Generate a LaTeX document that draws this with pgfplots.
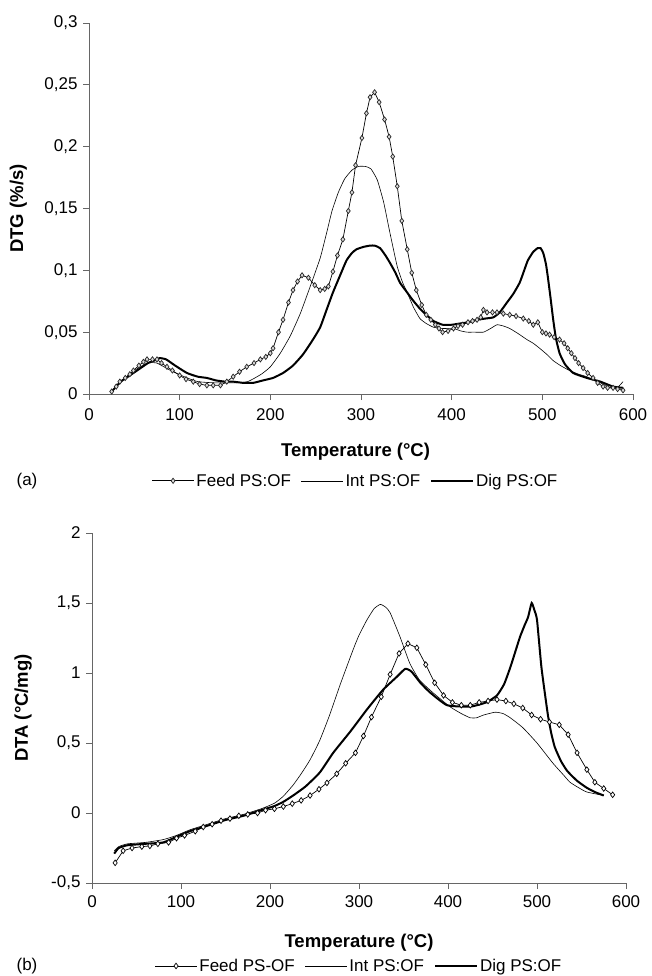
\documentclass[border=0pt]{standalone}
\usepackage{fontspec}
\setmainfont{Liberation Sans}
\usepackage{pgfplots}
\pgfplotsset{compat=1.18}
\pgfplotsset{
  common/.style={
    scale only axis,
    axis x line*=bottom, axis y line*=left,
    axis line style={black!60},
    tick style={black!60, line width=0.7pt},
    tick align=outside,
    major tick length=6pt,
    xmin=0, xmax=600, xtick={0,100,...,600},
    tick label style={font=\fontsize{17}{19}\selectfont},
    yticklabel style={xshift=-2pt},
    label style={font=\fontsize{18.5}{21}\selectfont\bfseries},
    /pgf/number format/assume math mode=true,
    /pgf/number format/use comma,
    legend columns=3,
    legend style={draw=none, fill=none, font=\fontsize{17}{19}\selectfont,
      /tikz/every even column/.append style={column sep=8pt},
      /tikz/every odd column/.append style={column sep=0pt}},
    legend image code/.code={\draw[mark repeat=2,mark phase=2] plot coordinates {(0pt,0pt) (21pt,0pt) (42pt,0pt)};},
  },
}
\begin{document}
\begin{tikzpicture}
\useasboundingbox (0pt,0pt) rectangle (651pt,-976pt);
% ---------------- (a)
\begin{axis}[common,
  at={(89pt,-394pt)}, anchor=south west, width=544pt, height=371pt,
  ymin=0, ymax=0.3, ytick={0,0.05,...,0.3},
  yticklabel style={/pgf/number format/fixed,/pgf/number format/precision=2},
  xticklabel style={yshift=-5pt},
  xlabel={Temperature (°C)}, ylabel={DTG (\%/s)},
  xlabel style={at={(axis description cs:0.49,-0.156)}, anchor=center},
  ylabel style={at={(axis description cs:-0.130,0.5)}, anchor=center},
  legend style={at={(axis description cs:0.49,-0.234)}, anchor=center},
]
\addplot[black, line width=0.7pt, mark=diamond*, mark size=2.6pt, mark options={fill=gray!30, draw=black!85, line width=0.7pt}] coordinates {
(25,0.002)(30,0.006)(34,0.010)(40,0.013)(45,0.016)(49,0.019)(55,0.023)(60,0.026)(64,0.028)(70,0.028)(75,0.028)(80,0.025)(86,0.022)(92,0.019)(100,0.015)(107,0.012)(115,0.010)(122,0.008)(130,0.007)(137,0.007)(145,0.007)(152,0.010)(159,0.014)(166,0.018)(174,0.022)(182,0.025)(189,0.028)(195,0.030)(200,0.033)(203,0.037)(209,0.050)(214,0.060)(220,0.074)(225,0.084)(230,0.091)(235,0.096)(242,0.094)(249,0.088)(255,0.084)(260,0.085)(264,0.087)(269,0.099)(274,0.112)(280,0.125)(286,0.148)(290,0.163)(294,0.185)(301,0.207)(306,0.227)(310,0.240)(315,0.244)(320,0.236)(326,0.222)(331,0.208)(335,0.192)(340,0.168)(345,0.140)(351,0.117)(356,0.098)(361,0.084)(367,0.072)(372,0.064)(377,0.060)(382,0.056)(386,0.053)(390,0.050)(396,0.051)(402,0.053)(407,0.055)(412,0.056)(418,0.058)(423,0.059)(428,0.060)(432,0.062)(435,0.068)(439,0.066)(445,0.066)(450,0.066)(457,0.065)(464,0.064)(471,0.063)(479,0.061)(485,0.059)(490,0.056)(495,0.058)(500,0.050)(504,0.049)(508,0.048)(513,0.046)(519,0.044)(524,0.041)(528,0.037)(532,0.033)(536,0.029)(540,0.025)(545,0.021)(550,0.017)(556,0.013)(561,0.009)(567,0.006)(572,0.005)(578,0.005)(583,0.004)(589,0.003)
};
\addlegendentry{Feed PS:OF}
\addplot[black, line width=0.6pt, smooth, tension=0.3] coordinates {
(25,0.002)(35,0.010)(50,0.019)(65,0.025)(75,0.025)(90,0.019)(105,0.014)(120,0.010)(140,0.009)(160,0.009)(175,0.010)(190,0.016)(200,0.022)(211,0.033)(222,0.047)(233,0.065)(244,0.087)(255,0.110)(262,0.130)(268,0.148)(275,0.163)(282,0.174)(290,0.181)(297,0.184)(305,0.184)(311,0.182)(318,0.173)(325,0.155)(332,0.130)(340,0.103)(346,0.090)(351,0.082)(358,0.070)(365,0.061)(372,0.057)(380,0.054)(390,0.053)(402,0.053)(410,0.051)(417,0.050)(425,0.050)(435,0.050)(443,0.053)(450,0.056)(457,0.055)(464,0.053)(473,0.049)(483,0.044)(490,0.041)(497,0.037)(505,0.032)(512,0.027)(520,0.023)(530,0.019)(540,0.016)(549,0.014)(557,0.011)(564,0.009)(570,0.007)(575,0.005)(580,0.005)(584,0.006)(589,0.010)
};
\addlegendentry{Int PS:OF}
\addplot[black, line width=2pt, smooth, tension=0.3] coordinates {
(25,0.002)(30,0.006)(35,0.010)(45,0.015)(55,0.020)(65,0.025)(72,0.027)(78,0.029)(85,0.028)(95,0.023)(108,0.017)(120,0.014)(130,0.013)(140,0.011)(150,0.010)(159,0.010)(170,0.009)(181,0.009)(192,0.011)(203,0.013)(214,0.017)(225,0.023)(236,0.032)(247,0.044)(255,0.054)(262,0.068)(269,0.082)(277,0.096)(284,0.108)(290,0.114)(295,0.117)(303,0.119)(310,0.120)(315,0.120)(321,0.118)(327,0.112)(332,0.106)(338,0.098)(343,0.090)(350,0.083)(357,0.076)(365,0.069)(372,0.064)(380,0.059)(390,0.056)(400,0.056)(409,0.057)(418,0.058)(428,0.060)(437,0.061)(446,0.062)(453,0.066)(461,0.074)(468,0.081)(475,0.090)(480,0.100)(484,0.108)(490,0.115)(495,0.118)(498,0.118)(501,0.114)(504,0.105)(506,0.095)(509,0.078)(512,0.060)(515,0.045)(519,0.033)(525,0.024)(534,0.017)(549,0.013)(564,0.010)(578,0.006)(589,0.005)
};
\addlegendentry{Dig PS:OF}
\end{axis}
\node[font=\fontsize{17}{19}\selectfont] at (27pt,-481pt) {(a)};
% ---------------- (b)
\begin{axis}[common,
  at={(92pt,-883pt)}, anchor=south west, width=534pt, height=350pt,
  ymin=-0.5, ymax=2, ytick={-0.5,0,...,2},
  yticklabel style={/pgf/number format/fixed,/pgf/number format/precision=1},
  xticklabel style={yshift=-3pt},
  xlabel={Temperature (°C)}, ylabel={DTA (°C/mg)},
  xlabel style={at={(axis description cs:0.5,-0.171)}, anchor=center},
  ylabel style={at={(axis description cs:-0.129,0.5)}, anchor=center},
  legend style={at={(axis description cs:0.5,-0.237)}, anchor=center},
]
\addplot[black, line width=0.7pt, mark=diamond*, mark size=2.8pt, mark options={fill=white, draw=black, line width=0.7pt}] coordinates {
(26,-0.356)(35,-0.27)(45,-0.25)(56,-0.24)(65,-0.235)(74,-0.22)(86,-0.21)(95,-0.18)(104,-0.16)(116,-0.13)(125,-0.10)(135,-0.08)(145,-0.055)(155,-0.04)(165,-0.02)(175,-0.01)(186,0.00)(195,0.02)(205,0.03)(215,0.046)(225,0.067)(235,0.09)(245,0.125)(255,0.17)(264,0.215)(275,0.28)(285,0.355)(296,0.43)(305,0.55)(314,0.685)(325,0.83)(335,0.99)(345,1.14)(355,1.21)(365,1.18)(375,1.06)(385,0.93)(395,0.84)(405,0.79)(415,0.77)(425,0.77)(435,0.79)(445,0.80)(455,0.81)(465,0.80)(474,0.78)(484,0.75)(494,0.70)(504,0.67)(514,0.65)(525,0.63)(535,0.56)(545,0.43)(556,0.31)(565,0.22)(575,0.175)(585,0.13)
};
\addlegendentry{Feed PS-OF}
\addplot[black, line width=0.6pt, smooth, tension=0.3] coordinates {
(25,-0.27)(30,-0.24)(40,-0.22)(60,-0.21)(80,-0.19)(95,-0.16)(110,-0.12)(130,-0.08)(150,-0.04)(170,-0.01)(190,0.03)(205,0.07)(215,0.12)(226,0.20)(235,0.28)(245,0.38)(256,0.52)(267,0.70)(279,0.92)(293,1.16)(300,1.27)(309,1.38)(317,1.46)(324,1.49)(330,1.47)(335,1.43)(346,1.26)(357,1.07)(368,0.95)(383,0.86)(402,0.76)(415,0.71)(425,0.68)(432,0.68)(440,0.70)(453,0.72)(462,0.71)(470,0.68)(484,0.61)(500,0.50)(518,0.355)(530,0.27)(537,0.22)(547,0.18)(556,0.15)(575,0.125)
};
\addlegendentry{Int PS:OF}
\addplot[black, line width=2pt, smooth, tension=0.3] coordinates {
(25,-0.29)(30,-0.25)(40,-0.23)(60,-0.22)(80,-0.21)(95,-0.17)(110,-0.13)(130,-0.09)(150,-0.05)(170,-0.02)(190,0.02)(205,0.05)(215,0.08)(226,0.125)(240,0.19)(256,0.29)(271,0.43)(290,0.58)(309,0.74)(327,0.88)(342,0.97)(352,1.03)(359,1.01)(369,0.93)(380,0.86)(399,0.77)(425,0.76)(443,0.79)(455,0.84)(463,0.92)(470,1.04)(476,1.16)(481,1.26)(486,1.34)(490,1.40)(494,1.50)(497,1.45)(500,1.38)(505,1.04)(512,0.71)(516,0.57)(520,0.47)(527,0.37)(534,0.30)(545,0.23)(556,0.18)(565,0.15)(575,0.125)
};
\addlegendentry{Dig PS:OF}
\end{axis}
\node[font=\fontsize{17}{19}\selectfont] at (27pt,-966pt) {(b)};
\end{tikzpicture}
\end{document}
